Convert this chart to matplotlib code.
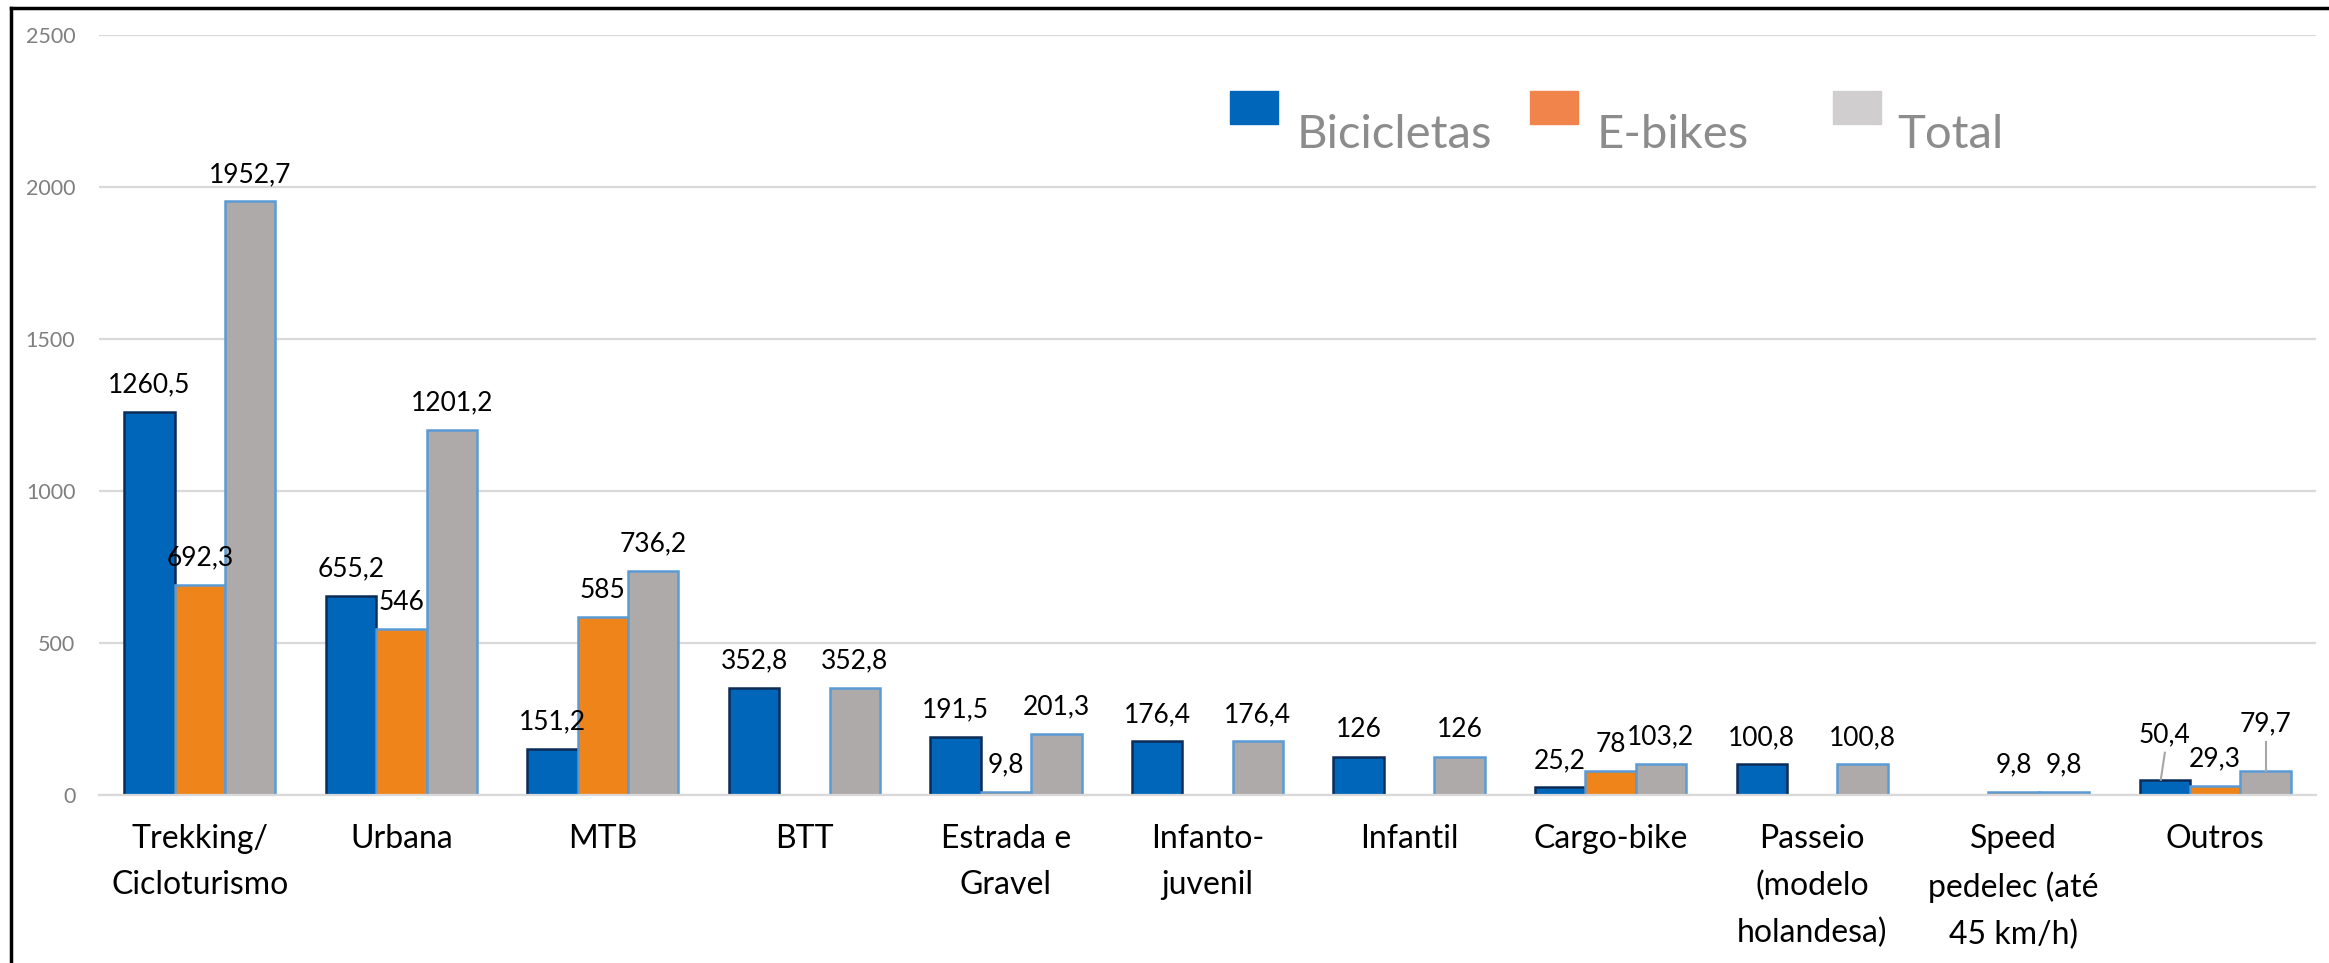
import matplotlib
matplotlib.use("Agg")
import matplotlib.pyplot as plt
from matplotlib.patches import Rectangle
from matplotlib.lines import Line2D
import numpy as np

plt.rcParams['font.family'] = ['Lato', 'DejaVu Sans']

categories = ["Trekking/\nCicloturismo", "Urbana", "MTB", "BTT", "Estrada e\nGravel",
              "Infanto-\njuvenil", "Infantil", "Cargo-bike", "Passeio\n(modelo\nholandesa)",
              "Speed\npedelec (até\n45 km/h)", "Outros"]
bicicletas = [1260.5, 655.2, 151.2, 352.8, 191.5, 176.4, 126, 25.2, 100.8, 0, 50.4]
ebikes = [692.3, 546, 585, 0, 9.8, 0, 0, 78, 0, 9.8, 29.3]
total = [1952.7, 1201.2, 736.2, 352.8, 201.3, 176.4, 126, 103.2, 100.8, 9.8, 79.7]
series_names = ["Bicicletas", "E-bikes", "Total"]
yticks = [0, 500, 1000, 1500, 2000, 2500]

bar_colors = ["#0066BA", "#EE841A", "#AEAAAA"]
edge_colors = ["#0C2B55", "#5B9BD5", "#5B9BD5"]
legend_colors = ["#0066BA", "#F0844A", "#D0CECE"]

# labels lifted with a leader line: (series, category) -> label baseline in data units
raised = {(0, 10): 174, (2, 10): 210}

fig = plt.figure(figsize=(23.29, 9.63), dpi=100)
ax = fig.add_axes([99 / 2329, 1 - 795 / 963, (2316 - 99) / 2329, (795 - 35) / 963])

x = np.arange(len(categories))
w = 0.25
for s, vals in enumerate([bicicletas, ebikes, total]):
    xs = x + (s - 1) * w
    ax.bar(xs, vals, width=w, color=bar_colors[s], edgecolor=edge_colors[s],
           linewidth=1.8, zorder=3)
    for i, v in enumerate(vals):
        if v == 0:
            continue
        txt = f"{v:g}".replace(".", ",")
        if (s, i) in raised:
            yl = raised[(s, i)]
            ax.text(xs[i], yl, txt, ha="center", va="baseline", fontsize=19, color="black", zorder=4)
            ax.plot([xs[i], xs[i] - 0.02 * (s == 0)], [yl - 35, v], color="#A6A6A6", lw=1.5, zorder=4)
        else:
            ax.annotate(txt, (xs[i], v), xytext=(0, 14), textcoords="offset points",
                        ha="center", va="baseline", fontsize=19, color="black", zorder=4)

ax.set_xlim(-0.5, len(categories) - 0.5)
ax.set_ylim(0, 2500)
ax.set_yticks(yticks)
ax.set_yticklabels([str(t) for t in yticks], fontsize=15.5, color="#7F7F7F")
ax.set_xticks(x)
ax.set_xticklabels(categories, fontsize=23, color="black", linespacing=1.68)
ax.tick_params(axis="both", length=0)
ax.tick_params(axis="y", pad=17)
ax.tick_params(axis="x", pad=21)
ax.grid(axis="y", color="#D9D9D9", lw=1.6, zorder=0)
for sp in ["top", "right", "left"]:
    ax.spines[sp].set_visible(False)
ax.spines["bottom"].set_color("#D9D9D9")
ax.spines["bottom"].set_linewidth(1.6)
ax.spines["bottom"].set_zorder(3.5)

# legend drawn by hand to match the square/text offset
sq_left = [1230, 1530, 1833]
txt_left = [1297, 1597, 1897]
for name, col, sl, tl in zip(series_names, legend_colors, sq_left, txt_left):
    fig.add_artist(Rectangle((sl / 2329, 1 - 124 / 963), 48 / 2329, 33 / 963,
                             transform=fig.transFigure, color=col))
    fig.text(tl / 2329, 1 - 148 / 963, name, fontsize=34, color="#8C8C8C",
             ha="left", va="baseline")

# outer frame (only top and left edges visible in the crop)
fig.add_artist(Line2D([11 / 2329, 11 / 2329], [0, 1 - 8 / 963], transform=fig.transFigure,
                      color="black", lw=2.5))
fig.add_artist(Line2D([11 / 2329, 1], [1 - 8 / 963, 1 - 8 / 963], transform=fig.transFigure,
                      color="black", lw=2.5))

fig.savefig("out.png", dpi=100)
